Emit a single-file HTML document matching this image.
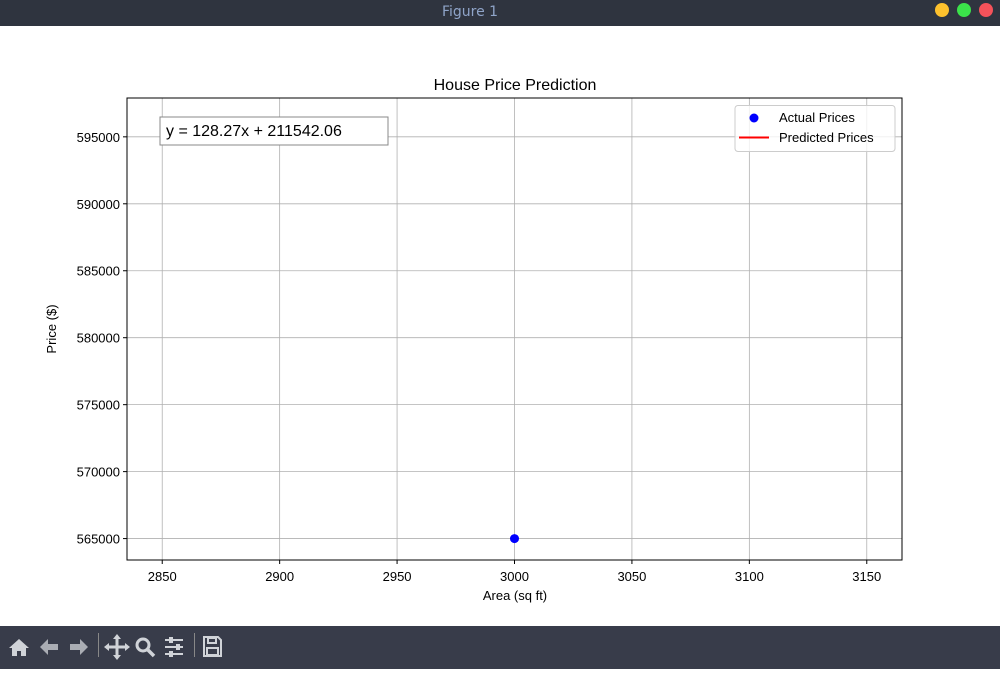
<!DOCTYPE html>
<html><head><meta charset="utf-8"><style>
body{margin:0;width:1000px;height:669px;overflow:hidden;background:#fff;font-family:"Liberation Sans","DejaVu Sans",sans-serif}
#titlebar{position:absolute;left:0;top:0;width:1000px;height:26px;background:#2f343f}
#toolbar{position:absolute;left:0;top:626px;width:1000px;height:43px;background:#383c4a}
</style></head><body>
<div id="titlebar">
<div style="position:absolute;left:0;width:940px;top:4px;text-align:center;color:#8fa4c8;font-size:14px;font-family:'DejaVu Sans',sans-serif">Figure 1</div>
<div style="position:absolute;left:935px;top:3px;width:14px;height:14px;border-radius:50%;background:#fdc12d"></div>
<div style="position:absolute;left:957px;top:3px;width:14px;height:14px;border-radius:50%;background:#3be24a"></div>
<div style="position:absolute;left:979px;top:3px;width:14px;height:14px;border-radius:50%;background:#f5525a"></div>
</div>
<svg id="chart" width="1000" height="600" style="position:absolute;left:0;top:26px" viewBox="0 26 1000 600"></svg>
<div id="toolbar">
<svg width="240" height="43" fill="#d0d3d8" stroke="#d0d3d8"><g transform="translate(0,-8)">
<g><path d="M9 30 L19 21 L29 30 L26 30 L26 38 L21 38 L21 33 L17 33 L17 38 L12 38 L12 30Z" stroke="none"/></g>
<g><path d="M40 29 L48 21 L48 26 L58 26 L58 32 L48 32 L48 37Z" stroke="none" opacity="0.75"/></g>
<g><path d="M88 29 L80 21 L80 26 L70 26 L70 32 L80 32 L80 37Z" stroke="none" opacity="0.75"/></g>
<line x1="98.5" y1="15" x2="98.5" y2="39" stroke="#888" />
<g><path d="M117 18 V40 M106 29 H128" stroke-width="3"/><path d="M113 21 L117 16 L121 21Z M113 37 L117 42 L121 37Z M109 25 L104 29 L109 33Z M125 25 L130 29 L125 33Z" stroke="none"/></g>
<g fill="none"><circle cx="143" cy="27" r="6" stroke-width="3"/><path d="M147 31 L154 38" stroke-width="3.5"/></g>
<g><path d="M165 22 H183 M165 29 H183 M165 36 H183" stroke-width="2"/><rect x="169" y="19" width="4" height="6" stroke="none"/><rect x="176" y="26" width="4" height="6" stroke="none"/><rect x="169" y="33" width="4" height="6" stroke="none"/></g>
<line x1="194.5" y1="15" x2="194.5" y2="39" stroke="#888"/>
<g fill="none"><path d="M204 19 H218 L221 22 V38 H204Z" stroke-width="2"/><rect x="208" y="20" width="8" height="5" stroke-width="2"/><rect x="207" y="30" width="11" height="7" stroke-width="2"/></g>
</g></svg>
</div>
<script>
const xTicks=[2850,2900,2950,3000,3050,3100,3150];
const yTicks=[565000,570000,575000,580000,585000,590000,595000];
const actualX=[3000];
const actualY=[565000];
const slope=128.27, intercept=211542.06;
const xMin=2835, xMax=3165, yMin=563400, yMax=597900;
const L=127,R=902,T=98,B=560;
const sx=v=>L+(v-xMin)/(xMax-xMin)*(R-L);
const sy=v=>B-(v-yMin)/(yMax-yMin)*(B-T);
const svg=document.getElementById('chart');
const NS='http://www.w3.org/2000/svg';
function mk(t,a,txt){const e=document.createElementNS(NS,t);for(const k in a)e.setAttribute(k,a[k]);if(txt!=null)e.textContent=txt;svg.appendChild(e);return e;}
let e;
xTicks.forEach(v=>{const x=sx(v);
e=mk('line',{x1:x,x2:x,y1:T,y2:B,stroke:'#b0b0b0','stroke-width':0.8});


e=mk('line',{x1:x,x2:x,y1:B,y2:B+4,stroke:'#000'});


e=mk('text',{x:x,y:B+21,'text-anchor':'middle','font-size':13},v);


});
yTicks.forEach(v=>{const y=sy(v);
e=mk('line',{x1:L,x2:R,y1:y,y2:y,stroke:'#b0b0b0','stroke-width':0.8});


e=mk('line',{x1:L-4,x2:L,y1:y,y2:y,stroke:'#000'});


e=mk('text',{x:L-7,y:y+5,'text-anchor':'end','font-size':13},v);


});
// predicted line through actual x values (single point => zero length, as in reference)
const pts=actualX.map(x=>sx(x)+','+sy(slope*x+intercept)).join(' ');
e=mk('polyline',{points:pts,fill:'none',stroke:'red','stroke-width':2});


actualX.forEach((x,i)=>{
e=mk('circle',{cx:sx(x),cy:sy(actualY[i]),r:4.5,fill:'blue'});


});
e=mk('rect',{x:L,y:T,width:R-L,height:B-T,fill:'none',stroke:'#000','stroke-width':1});


e=mk('text',{x:515,y:90,'text-anchor':'middle','font-size':16},'House Price Prediction');


e=mk('text',{x:515,y:600,'text-anchor':'middle','font-size':13},'Area (sq ft)');


e=mk('text',{x:56,y:329,'text-anchor':'middle','font-size':13,transform:'rotate(-90 56 329)'},'Price ($)');


e=mk('rect',{x:160,y:117,width:228,height:28,fill:'#fff',stroke:'#888'});


e=mk('text',{x:166,y:136,'font-size':16},'y = '+slope.toFixed(2)+'x + '+intercept.toFixed(2));


e=mk('rect',{x:735,y:105.5,width:160,height:46,rx:3,fill:'#fff','fill-opacity':0.8,stroke:'#ccc'});


e=mk('circle',{cx:754,cy:118,r:4.5,fill:'blue'});


e=mk('text',{x:779,y:122,'font-size':13},'Actual Prices');


e=mk('line',{x1:739,x2:769,y1:137.5,y2:137.5,stroke:'red','stroke-width':2});


e=mk('text',{x:779,y:142,'font-size':13},'Predicted Prices');


</script>
</body></html>
